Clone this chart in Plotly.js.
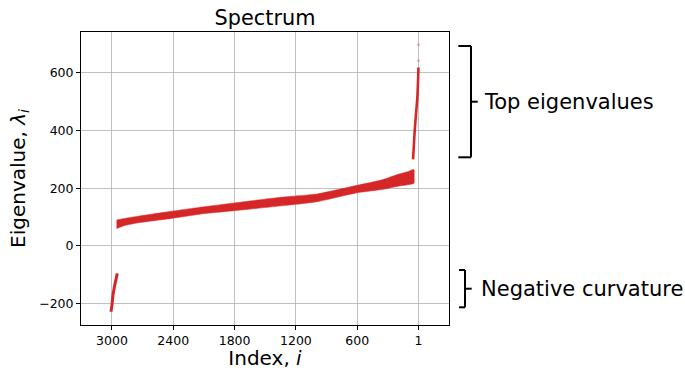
<!DOCTYPE html>
<html>
<head>
<meta charset="utf-8">
<script src="https://cdn.plot.ly/plotly-3.0.1.min.js"></script>
<style>html,body{margin:0;padding:0;background:#fff;}#chart{width:685px;height:370px;}</style>
</head>
<body>
<div id="chart"></div>
<script>
// Bulk of the spectrum: index and upper / lower edge of the dense band of eigenvalues
const bandIndex = [2955, 2880, 2743, 2420, 2094, 1800, 1387, 1200, 993, 600, 347, 200, 100, 54, 40];
const bandUpper = [90, 95, 103, 120, 136, 149, 167, 173, 180, 210, 230, 248, 258, 265, 262];
const bandLower = [60, 70, 80, 95, 112, 122, 137, 144, 153, 184, 196, 207, 212, 215, 218];

// Negative curvature tail (largest indices)
const negIndex = [3010, 3000, 2990, 2975, 2960, 2948];
const negValue = [-228, -205, -170, -140, -115, -95];

// Top eigenvalues (smallest indices)
const topIndex = [54, 47, 40, 28, 12, 5, 1];
const topValue = [300, 340, 386, 444, 514, 570, 618];
const topOutIndex = [1, 1];
const topOutValue = [641, 697];

const xTickVals = [3000, 2400, 1800, 1200, 600, 1];
const xTickText = ['3000', '2400', '1800', '1200', '600', '1'];
const yTickVals = [-200, 0, 200, 400, 600];

const red = '#d62728';
const FONT = 'DejaVu Sans, sans-serif';

const traces = [
  {x: bandIndex, y: bandLower, mode: 'lines', line: {width: 0.5, color: red, shape: 'spline', smoothing: 0.5}, hoverinfo: 'skip', showlegend: false},
  {x: bandIndex, y: bandUpper, mode: 'lines', line: {width: 0.5, color: red, shape: 'spline', smoothing: 0.5}, fill: 'tonexty', fillcolor: red, hoverinfo: 'skip', showlegend: false},
  {x: negIndex, y: negValue, mode: 'lines', line: {width: 3, color: red, shape: 'spline'}, showlegend: false},
  {x: topIndex, y: topValue, mode: 'lines', line: {width: 2.6, color: red, shape: 'spline'}, showlegend: false},
  {x: topOutIndex, y: topOutValue, mode: 'markers', marker: {size: 3, color: 'rgba(214,39,40,0.3)'}, showlegend: false}
];

const L = 81, R = 449, T = 32, B = 325, W = 685, H = 370;
const px = v => (v - L) / (R - L);
const py = v => (B - v) / (B - T);
const blk = {color: 'black', width: 2};
function seg(x0, y0, x1, y1) {
  return {type: 'line', xref: 'paper', yref: 'paper', x0: px(x0), y0: py(y0), x1: px(x1), y1: py(y1), line: blk, layer: 'above'};
}

const layout = {
  width: W, height: H,
  margin: {l: L, r: W - R, t: T, b: H - B, pad: 0},
  paper_bgcolor: 'white', plot_bgcolor: 'white',
  font: {family: FONT, color: 'black', size: 12.5},
  title: {text: 'Spectrum', font: {family: FONT, size: 20.8, color: 'black'}, x: px(265), xref: 'paper', xanchor: 'center', y: 1 - 18 / H, yref: 'container', yanchor: 'middle'},
  xaxis: {
    range: [3303, -298], tickmode: 'array', tickvals: xTickVals, ticktext: xTickText,
    showgrid: true, gridcolor: '#b0b0b0', gridwidth: 0.8, zeroline: false,
    showline: true, linecolor: 'black', linewidth: 1, mirror: true,
    ticks: 'outside', ticklen: 4, tickcolor: 'black', tickwidth: 1,
    tickfont: {family: FONT, size: 12.5, color: 'black'},
    title: {text: 'Index, <i>i</i>', font: {family: FONT, size: 20, color: 'black'}, standoff: 4},
    automargin: false
  },
  yaxis: {
    range: [-274, 741], tickmode: 'array', tickvals: yTickVals,
    showgrid: true, gridcolor: '#b0b0b0', gridwidth: 0.8, zeroline: false,
    showline: true, linecolor: 'black', linewidth: 1, mirror: true,
    ticks: 'outside', ticklen: 4, tickcolor: 'black', tickwidth: 1,
    tickfont: {family: FONT, size: 12.5, color: 'black'},
    title: {text: 'Eigenvalue, <i>λ</i><sub><i>i</i></sub>', font: {family: FONT, size: 20, color: 'black'}, standoff: 8},
    automargin: false
  },
  shapes: [
    seg(471, 46, 471, 157.3), seg(458.3, 46, 471, 46), seg(458.3, 157.3, 471, 157.3), seg(471, 101.7, 477.7, 101.7),
    seg(465, 270, 465, 307.3), seg(459, 270, 465, 270), seg(459, 307.3, 465, 307.3), seg(465, 288.7, 471.7, 288.7)
  ],
  annotations: [
    {text: 'Top eigenvalues', xref: 'paper', yref: 'paper', x: px(482), y: py(101.7), xanchor: 'left', yanchor: 'middle', showarrow: false, font: {family: FONT, size: 21, color: 'black'}},
    {text: 'Negative curvature', xref: 'paper', yref: 'paper', x: px(478.7), y: py(288.7), xanchor: 'left', yanchor: 'middle', showarrow: false, font: {family: FONT, size: 21, color: 'black'}}
  ]
};

Plotly.newPlot('chart', traces, layout, {staticPlot: true});
</script>
</body>
</html>
